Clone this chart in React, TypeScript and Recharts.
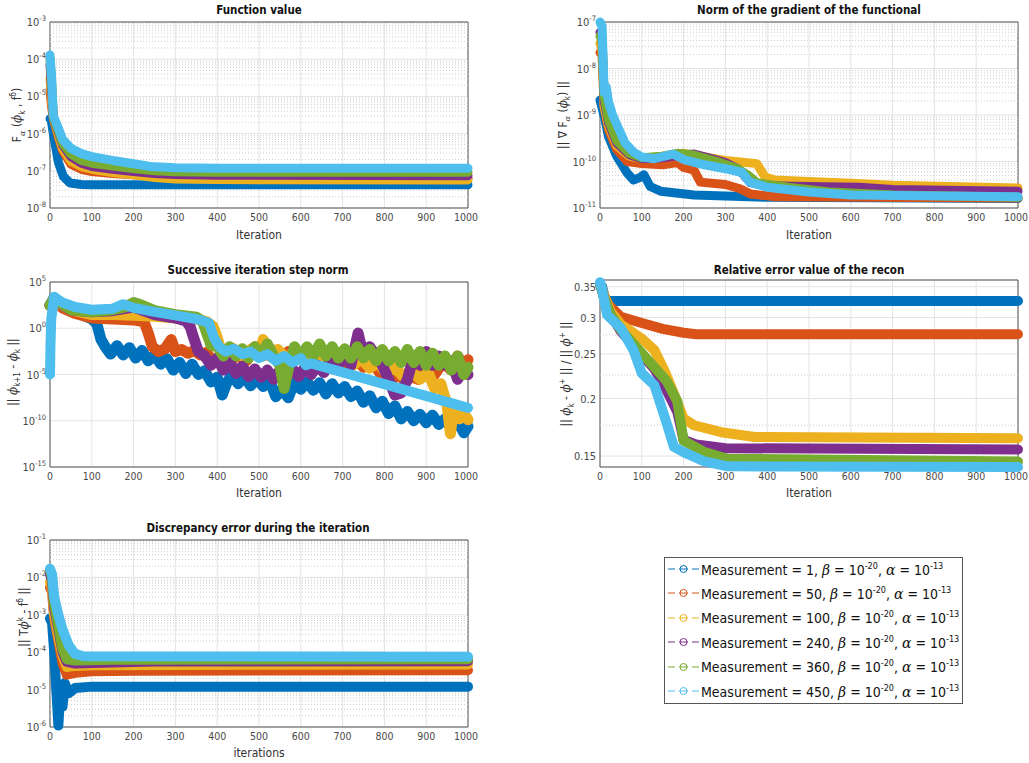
import { LineChart, Line, XAxis, YAxis, CartesianGrid, ReferenceLine, ReferenceArea } from 'recharts'

type Pt = [number, number]

const COLORS = ['#0072BD', '#D95319', '#EDB120', '#7E2F8E', '#77AC30', '#4DBEEE']
const measurements = [1, 50, 100, 240, 360, 450]
const iterTicks = [0, 100, 200, 300, 400, 500, 600, 700, 800, 900, 1000]

// Function value F_alpha(phi_k, f^delta)
const fvBlue: Pt[] = [[0, 2.5e-6], [3, 2.3e-6], [8, 1e-6], [20, 1.7e-7], [32, 7e-8], [48, 4.7e-8], [75, 4.3e-8], [100, 4.2e-8], [1000, 4.2e-8]]
const fvOrange: Pt[] = [[0, 1.5e-5], [4, 5e-6], [8, 2.6e-6], [20, 8e-7], [30, 3.5e-7], [50, 1.5e-7], [75, 1.1e-7], [100, 9.5e-8], [150, 8.5e-8], [200, 7.8e-8], [250, 7e-8], [300, 6.6e-8], [400, 6.4e-8], [1000, 6.3e-8]]
const fvYellow: Pt[] = [[0, 3e-5], [4, 8e-6], [8, 2.6e-6], [20, 9e-7], [30, 4e-7], [50, 1.8e-7], [75, 1.3e-7], [100, 1.1e-7], [150, 9e-8], [200, 7.8e-8], [250, 6.6e-8], [300, 6e-8], [400, 5.8e-8], [1000, 5.7e-8]]
const fvPurple: Pt[] = [[0, 7e-5], [4, 1.5e-5], [8, 2.7e-6], [20, 1.1e-6], [30, 5e-7], [50, 2.4e-7], [75, 1.6e-7], [100, 1.3e-7], [150, 1.1e-7], [200, 9.5e-8], [250, 8.5e-8], [300, 8e-8], [400, 7.6e-8], [1000, 7.4e-8]]
const fvGreen: Pt[] = [[0, 1e-4], [4, 2.5e-5], [8, 2.8e-6], [20, 1.2e-6], [30, 5.5e-7], [50, 2.8e-7], [75, 1.9e-7], [100, 1.6e-7], [150, 1.35e-7], [200, 1.15e-7], [250, 1e-7], [300, 9.5e-8], [400, 9.2e-8], [1000, 9.1e-8]]
const fvCyan: Pt[] = [[0, 1.3e-4], [4, 3e-5], [8, 3e-6], [20, 1.4e-6], [30, 7e-7], [50, 4e-7], [75, 2.9e-7], [100, 2.4e-7], [150, 1.9e-7], [200, 1.55e-7], [240, 1.3e-7], [300, 1.2e-7], [400, 1.18e-7], [1000, 1.17e-7]]

// Norm of the gradient
const grBlue: Pt[] = [[0, 2.1e-9], [12, 8e-10], [20, 3.5e-10], [40, 1.3e-10], [64, 5.8e-11], [80, 4e-11], [95, 4.5e-11], [105, 5.2e-11], [120, 2.9e-11], [145, 2.3e-11], [225, 1.9e-11], [400, 1.7e-11], [1000, 1.6e-11]]
const grOrange: Pt[] = [[0, 2.2e-8], [5, 2e-8], [10, 1.5e-9], [20, 5e-10], [40, 1.8e-10], [65, 1e-10], [100, 9e-11], [150, 8.5e-11], [185, 9.5e-11], [200, 7.5e-11], [225, 6.5e-11], [240, 3.6e-11], [300, 3.2e-11], [335, 2.6e-11], [360, 2e-11], [420, 1.75e-11], [1000, 1.65e-11]]
const grYellow: Pt[] = [[0, 3.5e-8], [5, 2.5e-8], [10, 1.5e-9], [20, 6e-10], [40, 2.2e-10], [70, 1.3e-10], [100, 1.15e-10], [150, 1.3e-10], [200, 1.5e-10], [250, 1.25e-10], [300, 1.05e-10], [375, 9e-11], [395, 4.6e-11], [420, 4e-11], [500, 3.7e-11], [600, 3.4e-11], [700, 3.1e-11], [1000, 2.7e-11]]
const grPurple: Pt[] = [[0, 6e-8], [5, 5e-8], [10, 2e-9], [20, 7e-10], [40, 2.5e-10], [70, 1.4e-10], [100, 1.15e-10], [150, 1.2e-10], [200, 1.4e-10], [225, 1.45e-10], [260, 1.2e-10], [300, 9.5e-11], [330, 7e-11], [345, 5e-11], [360, 3.5e-11], [400, 3e-11], [500, 2.9e-11], [620, 2.8e-11], [700, 2.5e-11], [1000, 2.3e-11]]
const grGreen: Pt[] = [[0, 5e-8], [5, 4e-8], [10, 2.5e-9], [20, 8e-10], [40, 2.8e-10], [70, 1.5e-10], [100, 1.2e-10], [150, 1.3e-10], [185, 1.5e-10], [220, 1.4e-10], [280, 1e-10], [330, 7e-11], [355, 5e-11], [375, 3.5e-11], [450, 2.8e-11], [550, 2.2e-11], [700, 1.9e-11], [1000, 1.7e-11]]
const grCyan: Pt[] = [[0, 1e-7], [5, 8e-8], [10, 3e-9], [15, 4e-9], [20, 2e-9], [30, 1e-9], [45, 5e-10], [60, 2.5e-10], [80, 1.6e-10], [100, 1.25e-10], [130, 1.15e-10], [175, 1.45e-10], [200, 1.1e-10], [250, 8.5e-11], [300, 7e-11], [340, 5.8e-11], [358, 3.6e-11], [400, 2.8e-11], [500, 2.2e-11], [600, 1.9e-11], [1000, 1.75e-11]]

// Successive iteration step norm
const stBlue: Pt[] = [[0, 3e2], [10, 2e3], [30, 2.5e2], [60, 6e1], [100, 1e1], [112, 3], [122, 6e-2], [132, 1e-2], [145, 1.6e-3], [160, 1.3e-2], [175, 1.3e-3], [190, 8e-3], [205, 6e-4], [220, 4e-3], [235, 3e-4], [250, 1.3e-3], [265, 1.3e-4], [280, 5e-4], [295, 3e-5], [310, 2e-4], [325, 1.3e-5], [340, 1.3e-4], [355, 1e-5], [370, 2.5e-5], [385, 1.6e-6], [400, 5e-6], [412, 6e-8], [422, 1e-6], [435, 1e-5], [450, 1e-6], [465, 6e-6], [480, 6e-7], [495, 4e-6], [510, 5e-7], [525, 2.5e-6], [540, 4e-8], [555, 2.5e-7], [570, 3e-8], [585, 1.6e-6], [600, 2.5e-7], [615, 1.6e-6], [630, 2e-7], [645, 1.3e-6], [660, 8e-8], [675, 1e-6], [690, 1e-7], [705, 5e-7], [720, 4e-8], [735, 1.6e-7], [750, 1e-8], [765, 5e-8], [780, 2.5e-9], [795, 1.3e-8], [810, 6e-10], [825, 4e-9], [840, 1.6e-10], [855, 1e-9], [870, 1e-10], [885, 5e-10], [900, 6e-11], [915, 4e-10], [930, 4e-11], [945, 1.6e-10], [960, 1.6e-11], [975, 1e-10], [990, 5e-12], [1000, 2.5e-11]]
const stOrange: Pt[] = [[0, 3e2], [10, 1e3], [30, 1.6e2], [60, 4e1], [100, 1.3e1], [150, 1e1], [200, 8], [225, 5], [235, 3e-1], [245, 1e-2], [260, 3e-3], [275, 6e-3], [290, 6e-2], [300, 3e-3], [315, 5e-3], [330, 2e-3], [345, 4e-3], [360, 1.3e-3], [375, 2.5e-3], [390, 1.6e-4], [410, 1e-3], [430, 2e-4], [450, 2e-3], [470, 3e-4], [490, 1e-2], [510, 1e-3], [530, 5e-3], [550, 3e-4], [570, 3e-3], [590, 4e-4], [610, 2e-3], [630, 2e-4], [650, 1e-3], [670, 1.6e-4], [690, 8e-4], [710, 1.3e-4], [730, 6e-4], [750, 6e-5], [770, 3e-4], [790, 1.3e-5], [805, 3e-5], [820, 3e-6], [835, 1.3e-5], [850, 1.6e-6], [865, 6e-6], [880, 3e-6], [900, 3e-5], [920, 1e-5], [940, 2e-4], [960, 3e-5], [975, 1e-3], [990, 1e-4], [1000, 4e-4]]
const stYellow: Pt[] = [[0, 3e2], [10, 1e3], [50, 1e2], [100, 3e1], [150, 3e1], [200, 2.5e1], [250, 2e1], [300, 1.3e1], [350, 1e1], [375, 5], [390, 1.6], [400, 1e-1], [410, 3e-3], [425, 1.6e-3], [440, 6e-3], [460, 1e-3], [480, 5e-3], [500, 8e-4], [510, 6e-2], [525, 1e-3], [545, 5e-3], [565, 5e-4], [585, 3e-3], [605, 3e-4], [625, 2e-3], [645, 2e-4], [665, 1.3e-3], [685, 1.6e-4], [705, 8e-4], [725, 1e-4], [745, 5e-4], [765, 5e-5], [785, 2e-4], [805, 1.3e-5], [825, 6e-5], [845, 6e-6], [865, 3e-5], [885, 3e-6], [905, 1.6e-5], [920, 3e-7], [935, 1e-6], [950, 5e-9], [958, 4e-12], [965, 2e-9], [980, 1.6e-10], [990, 6e-10], [1000, 1.3e-10]]
const stPurple: Pt[] = [[0, 3e2], [10, 1.3e3], [50, 1e2], [100, 6e1], [150, 8e1], [200, 2e2], [250, 3e1], [300, 1.3e1], [325, 6], [335, 1.6], [345, 6e-2], [355, 3e-3], [370, 1e-3], [385, 1e-4], [400, 6e-4], [415, 3e-5], [430, 2e-4], [445, 1.3e-5], [460, 8e-5], [475, 6e-6], [490, 4e-5], [505, 5e-6], [520, 3e-5], [535, 3e-6], [550, 3e-5], [565, 4e-6], [580, 4e-5], [595, 6e-6], [610, 6e-5], [625, 1e-5], [640, 1e-4], [655, 1.6e-5], [670, 3e-4], [690, 1e-4], [705, 1e-3], [720, 1e-4], [737, 3e-1], [750, 1e-3], [765, 1e-2], [780, 1e-3], [795, 1e-4], [810, 3e-6], [825, 6e-8], [840, 1e-7], [855, 3e-6], [870, 1e-3], [885, 1e-4], [900, 3e-3], [915, 1e-4], [930, 1e-3], [945, 1e-4], [960, 3e-4], [975, 3e-6], [990, 3e-5], [1000, 1e-5]]
const stGreen: Pt[] = [[0, 3e2], [10, 1.6e3], [50, 1e2], [100, 6e1], [150, 1e2], [180, 2e2], [200, 6e2], [220, 3e2], [250, 8e1], [300, 3e1], [350, 1.6e1], [365, 6], [375, 3e-1], [385, 1.6e-2], [400, 1e-2], [415, 1e-3], [430, 1e-2], [445, 1e-3], [460, 6e-3], [475, 6e-4], [490, 1e-2], [505, 1e-3], [520, 2e-2], [535, 1e-3], [550, 1e-4], [560, 3e-7], [572, 1e-4], [585, 1e-2], [600, 6e-4], [615, 1e-2], [630, 1e-3], [645, 2e-2], [660, 1e-3], [675, 1e-2], [690, 6e-4], [705, 6e-3], [720, 6e-4], [735, 1e-2], [750, 6e-4], [765, 5e-3], [780, 3e-4], [795, 5e-3], [810, 3e-4], [825, 3e-3], [840, 2e-4], [855, 5e-3], [870, 2e-4], [885, 3e-3], [900, 1e-4], [915, 2e-3], [930, 1e-4], [945, 1e-3], [960, 3e-5], [975, 1e-3], [990, 1e-5], [1000, 6e-5]]
const stCyan: Pt[] = [[0, 1e-5], [1, 1e-2], [3, 1e1], [10, 2.5e3], [30, 6e2], [60, 2e2], [100, 1e2], [150, 1.3e2], [175, 4e2], [200, 1.6e2], [250, 6e1], [300, 2.5e1], [350, 1e1], [380, 4], [392, 1e-1], [405, 1e-2], [420, 3e-3], [440, 6e-3], [460, 1.6e-3], [480, 3e-3], [500, 6e-4], [520, 1.6e-3], [540, 3e-4], [560, 1e-3], [580, 2e-4], [600, 6e-4], [612, 1e-4], [625, 1.6e-4], [1000, 2.5e-9]]

// Relative error of the reconstruction
const reBlue: Pt[] = [[0, 0.355], [5, 0.35], [12, 0.33], [20, 0.326], [1000, 0.326]]
const reOrange: Pt[] = [[0, 0.355], [10, 0.335], [20, 0.32], [50, 0.301], [100, 0.292], [150, 0.2835], [200, 0.278], [230, 0.276], [1000, 0.276]]
const reYellow: Pt[] = [[0, 0.355], [10, 0.335], [25, 0.31], [50, 0.29], [100, 0.27], [130, 0.255], [155, 0.229], [178, 0.204], [200, 0.181], [225, 0.175], [290, 0.169], [370, 0.165], [1000, 0.164]]
const rePurple: Pt[] = [[0, 0.355], [10, 0.33], [25, 0.305], [50, 0.28], [100, 0.249], [130, 0.232], [153, 0.214], [185, 0.187], [200, 0.1625], [230, 0.159], [300, 0.156], [1000, 0.155]]
const reGreen: Pt[] = [[0, 0.355], [10, 0.33], [25, 0.305], [50, 0.282], [100, 0.251], [160, 0.218], [185, 0.197], [200, 0.162], [250, 0.153], [305, 0.148], [1000, 0.146]]
const reCyan: Pt[] = [[0, 0.358], [5, 0.345], [17, 0.304], [50, 0.2845], [80, 0.255], [100, 0.227], [130, 0.214], [161, 0.175], [177, 0.157], [200, 0.153], [250, 0.146], [305, 0.1425], [1000, 0.142]]

// Discrepancy error
const dsBlue: Pt[] = [[0, 8e-4], [5, 6e-4], [10, 1e-4], [15, 1e-5], [20, 1.1e-6], [25, 1e-5], [30, 3.5e-6], [35, 1.5e-5], [45, 8e-6], [60, 1.1e-5], [100, 1.2e-5], [1000, 1.2e-5]]
const dsOrange: Pt[] = [[0, 5.5e-3], [5, 4e-3], [10, 8e-4], [20, 2e-4], [30, 5e-5], [40, 2.5e-5], [60, 2.8e-5], [100, 3.1e-5], [200, 3.2e-5], [1000, 3.3e-5]]
const dsYellow: Pt[] = [[0, 7.5e-3], [5, 5e-3], [10, 1e-3], [20, 2.5e-4], [30, 8e-5], [40, 4e-5], [60, 4.3e-5], [100, 4.5e-5], [1000, 4.7e-5]]
const dsPurple: Pt[] = [[0, 1.2e-2], [5, 8e-3], [10, 1.5e-3], [20, 4e-4], [30, 1e-4], [40, 5.5e-5], [60, 5e-5], [150, 5.3e-5], [250, 5.6e-5], [1000, 5.7e-5]]
const dsGreen: Pt[] = [[0, 1.5e-2], [5, 1e-2], [10, 2e-3], [20, 5e-4], [30, 1.2e-4], [40, 6.5e-5], [60, 6e-5], [150, 6.3e-5], [1000, 6.5e-5]]
const dsCyan: Pt[] = [[0, 1.7e-2], [5, 1.2e-2], [10, 3e-3], [20, 1e-3], [30, 4e-4], [45, 1.5e-4], [60, 9e-5], [80, 7.8e-5], [1000, 7.5e-5]]

const FONT = "'DejaVu Sans Condensed', 'DejaVu Sans', sans-serif"
const TICK_COLOR = '#4a4a4a'

// dotted minor grid positions (2..9 x 10^k)
function minorLog(lo: number, hi: number) {
  const out: number[] = []
  for (let k = lo; k < hi; k++) for (let m = 2; m <= 9; m++) out.push(m * Math.pow(10, k))
  return out
}

function LogTick(props: any) {
  const { x, y, payload } = props
  const e = Math.round(Math.log10(payload.value))
  return (
    <text x={x} y={y} dy={4} textAnchor="end" fill={TICK_COLOR} fontSize={11} fontFamily={FONT}>
      10<tspan dy={-5} fontSize={7.5}>{e}</tspan>
    </text>
  )
}

function DecTick(props: any) {
  const { x, y, payload } = props
  return (
    <text x={x} y={y} dy={4} textAnchor="end" fill={TICK_COLOR} fontSize={11} fontFamily={FONT}>
      {payload.value}
    </text>
  )
}

// x tick; the last label is nudged so it stays inside the page on the right column
function IterTick(props: any) {
  const { x, y, payload } = props
  const dx = payload.value === 1000 ? -2 : 0
  return (
    <text x={x + dx} y={y} dy={9} textAnchor="middle" fill={TICK_COLOR} fontSize={10.5} fontFamily={FONT}>
      {payload.value}
    </text>
  )
}

interface PanelProps {
  left: number
  top: number
  w: number
  h: number
  domain: [number, number]
  ticks: number[]
  minor: number[]
  series: Pt[][]
  widths: number[]
  tick: any
}

function Panel({ left, top, w, h, domain, ticks, minor, series, widths, tick }: PanelProps) {
  return (
    <div style={{ position: 'absolute', left: left - 50, top: top - 10, width: w + 72, height: h + 40 }}>
      <LineChart width={w + 72} height={h + 40} margin={{ top: 10, right: 22, bottom: 0, left: 0 }}>
        <CartesianGrid stroke="#e4e4e4" />
        {minor.map(v => (
          <ReferenceLine key={v} y={v} stroke="#cfcfcf" strokeDasharray="1 2" />
        ))}
        <XAxis
          type="number"
          dataKey="x"
          domain={[0, 1000]}
          ticks={iterTicks}
          interval={0}
          height={30}
          tickLine={false}
          axisLine={false}
          tickSize={2}
          tick={<IterTick />}
        />
        <YAxis
          type="number"
          scale="log"
          domain={domain}
          ticks={ticks}
          interval={0}
          width={50}
          tickLine={false}
          axisLine={false}
          tickSize={2}
          tick={tick}
        />
        {series.map((s, i) => (
          <Line
            key={i}
            data={s.map(([x, y]) => ({ x, y }))}
            dataKey="y"
            stroke={COLORS[i]}
            strokeWidth={widths[i]}
            strokeLinejoin="round"
            strokeLinecap="round"
            dot={false}
            isAnimationActive={false}
          />
        ))}
        <ReferenceArea x1={0} x2={1000} y1={domain[0]} y2={domain[1]} fill="none" stroke="#555" strokeWidth={1} ifOverflow="visible" />
      </LineChart>
    </div>
  )
}

const textBase: React.CSSProperties = {
  position: 'absolute',
  whiteSpace: 'nowrap',
  fontFamily: FONT,
  transform: 'translate(-50%, -50%)',
}

function Title({ x, y, children }: { x: number; y: number; children: any }) {
  return <div style={{ ...textBase, left: x, top: y, fontSize: 11.5, fontWeight: 'bold', color: '#111' }}>{children}</div>
}

function XLabel({ x, y, children }: { x: number; y: number; children: any }) {
  return <div style={{ ...textBase, left: x, top: y, fontSize: 12, color: '#333' }}>{children}</div>
}

function YLabel({ x, y, children }: { x: number; y: number; children: any }) {
  return (
    <div style={{ ...textBase, left: x, top: y, fontSize: 12, color: '#333', transform: 'translate(-50%, -50%) rotate(-90deg)' }}>
      {children}
    </div>
  )
}

const gk: React.CSSProperties = { fontFamily: "'DejaVu Serif', serif", fontStyle: 'italic' }
const sub: React.CSSProperties = { fontSize: 8, verticalAlign: 'sub' }
const sup: React.CSSProperties = { fontSize: 8, verticalAlign: 'super' }

function Legend() {
  return (
    <div style={{ position: 'absolute', left: 664, top: 557, width: 299, height: 147, border: '1px solid #555', boxSizing: 'border-box', background: '#fff', fontFamily: FONT }}>
      {measurements.map((m, i) => (
        <div key={m} style={{ position: 'absolute', left: 2, top: 11 + i * 24.4 - 10, height: 20, display: 'flex', alignItems: 'center', whiteSpace: 'nowrap' }}>
          <svg width={33} height={14} style={{ marginRight: 1 }}>
            <line x1={1} x2={8} y1={7} y2={7} stroke={COLORS[i]} strokeWidth={1} />
            <circle cx={16.5} cy={7} r={3.5} fill="none" stroke={COLORS[i]} strokeWidth={1} />
            <line x1={12} x2={21} y1={7} y2={7} stroke={COLORS[i]} strokeWidth={1} />
            <line x1={25} x2={32} y1={7} y2={7} stroke={COLORS[i]} strokeWidth={1} />
          </svg>
          <span style={{ fontSize: 14, color: '#111' }}>
            Measurement = {m}, <span style={gk}>β</span> = 10<span style={{ fontSize: 9, verticalAlign: 6 }}>-20</span>, <span style={gk}>α</span> = 10
            <span style={{ fontSize: 9, verticalAlign: 6 }}>-13</span>
          </span>
        </div>
      ))}
    </div>
  )
}

export default function App() {
  return (
    <div style={{ position: 'absolute', left: 0, top: 0, width: 1029, height: 763, background: '#fff', overflow: 'hidden' }}>
      <Panel
        left={50} top={22} w={418} h={186}
        domain={[1e-8, 1e-3]} ticks={[1e-8, 1e-7, 1e-6, 1e-5, 1e-4, 1e-3]} minor={minorLog(-8, -3)}
        series={[fvBlue, fvOrange, fvYellow, fvPurple, fvGreen, fvCyan]} widths={[9, 9, 9, 9, 9, 9]} tick={<LogTick />}
      />
      <Title x={259} y={10}>Function value</Title>
      <XLabel x={259} y={235}>Iteration</XLabel>
      <YLabel x={18} y={115}>
        F<span style={sub}><span style={gk}>α</span></span> (<span style={gk}>ϕ</span><span style={sub}>k</span> , f<span style={sup}>δ</span>)
      </YLabel>

      <Panel
        left={600} top={22} w={418} h={186}
        domain={[1e-11, 1e-7]} ticks={[1e-11, 1e-10, 1e-9, 1e-8, 1e-7]} minor={minorLog(-11, -7)}
        series={[grBlue, grOrange, grYellow, grPurple, grGreen, grCyan]} widths={[9, 9, 9, 9, 9, 9]} tick={<LogTick />}
      />
      <Title x={809} y={10}>Norm of the gradient of the functional</Title>
      <XLabel x={809} y={235}>Iteration</XLabel>
      <YLabel x={564} y={115}>
        || ∇ F<span style={sub}><span style={gk}>α</span></span> (<span style={gk}>ϕ</span><span style={sub}>k</span>) ||
      </YLabel>

      <Panel
        left={50} top={282} w={418} h={185}
        domain={[1e-15, 1e5]} ticks={[1e-15, 1e-10, 1e-5, 1, 1e5]} minor={[]}
        series={[stBlue, stOrange, stYellow, stPurple, stGreen, stCyan]} widths={[11, 11, 11, 11, 11, 10]} tick={<LogTick />}
      />
      <Title x={258} y={270}>Successive iteration step norm</Title>
      <XLabel x={259} y={493}>Iteration</XLabel>
      <YLabel x={14} y={372}>
        || <span style={gk}>ϕ</span><span style={sub}>k+1</span> - <span style={gk}>ϕ</span><span style={sub}>k</span> ||
      </YLabel>

      <Panel
        left={600} top={280} w={418} h={187}
        domain={[0.142, 0.362]} ticks={[0.15, 0.2, 0.25, 0.3, 0.35]} minor={[0.175, 0.225, 0.275]}
        series={[reBlue, reOrange, reYellow, rePurple, reGreen, reCyan]} widths={[10, 10, 10, 10, 10, 10]} tick={<DecTick />}
      />
      <Title x={809} y={270}>Relative error value of the recon</Title>
      <XLabel x={809} y={493}>Iteration</XLabel>
      <YLabel x={567} y={374}>
        || <span style={gk}>ϕ</span><span style={sub}>k</span> - <span style={gk}>ϕ</span><span style={sup}>+</span> || / || <span style={gk}>ϕ</span><span style={sup}>+</span> ||
      </YLabel>

      <Panel
        left={50} top={540} w={418} h={187}
        domain={[1e-6, 1e-1]} ticks={[1e-6, 1e-5, 1e-4, 1e-3, 1e-2, 1e-1]} minor={minorLog(-6, -1)}
        series={[dsBlue, dsOrange, dsYellow, dsPurple, dsGreen, dsCyan]} widths={[10, 10, 10, 10, 10, 10]} tick={<LogTick />}
      />
      <Title x={258} y={528}>Discrepancy error during the iteration</Title>
      <XLabel x={259} y={753}>iterations</XLabel>
      <YLabel x={23} y={617}>
        || T<span style={gk}>ϕ</span><span style={sup}>k</span> - f<span style={sup}>δ</span> ||
      </YLabel>

      <Legend />
    </div>
  )
}
